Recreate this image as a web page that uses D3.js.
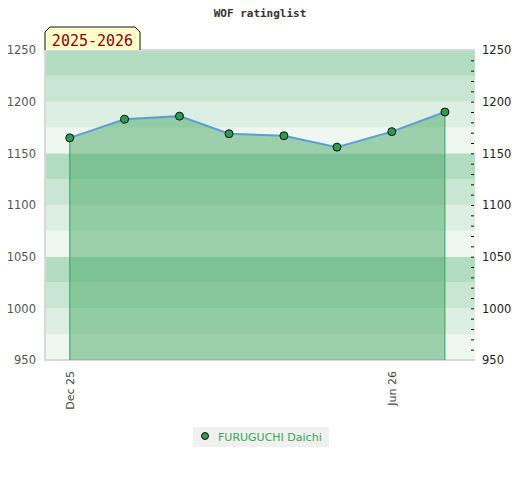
<!DOCTYPE html>
<html>
<head>
<meta charset="utf-8">
<script src="https://cdn.jsdelivr.net/npm/d3@7.9.0/dist/d3.min.js"></script>
<style>
  body { margin: 0; background: #fff; }
  svg { display: block; }
</style>
</head>
<body>
<div id="chart"></div>
<script>
// data
const player = 'FURUGUCHI Daichi';
const season = '2025-2026';
const dates = ['2025-12-01', '2026-01-01', '2026-02-01', '2026-03-01',
               '2026-04-01', '2026-05-01', '2026-06-01', '2026-07-01'];
const ratings = [1165, 1183, 1186, 1169, 1167, 1156, 1171, 1190];
const yTicks = [950, 1000, 1050, 1100, 1150, 1200, 1250];
const xTickDates = ['2025-12-01', '2026-06-01'];
const xTickLabels = ['Dec 25', 'Jun 26'];

const parse = d3.timeParse('%Y-%m-%d');
const points = dates.map((d, i) => ({ date: parse(d), rating: ratings[i] }));

const width = 520;
const height = 480;
const margin = { top: 50, right: 45, bottom: 120, left: 45 };

const svg = d3.select('#chart')
  .append('svg')
  .attr('width', width)
  .attr('height', height);

const xScale = d3.scaleTime()
  .domain([parse('2025-11-17'), parse('2026-07-18')])
  .range([margin.left, width - margin.right]);

const yScale = d3.scaleLinear()
  .domain([950, 1250])
  .range([height - margin.bottom, margin.top]);

// background bands, 4 shades repeating every 100 points
const bandColors = ['#eff7f1', '#dcefe2', '#c8e6d2', '#b3ddc3'];
svg.append('g')
  .selectAll('rect')
  .data(d3.range(950, 1250, 25))
  .join('rect')
  .attr('x', margin.left)
  .attr('width', width - margin.left - margin.right)
  .attr('y', (d) => yScale(d + 25))
  .attr('height', (d) => yScale(d) - yScale(d + 25))
  .attr('fill', (d) => bandColors[((d - 950) / 25) % 4]);

// plot border (left, top, bottom)
svg.append('path')
  .attr('d', `M${width - margin.right},${margin.top}H${margin.left}V${height - margin.bottom}H${width - margin.right}`)
  .attr('fill', 'none')
  .attr('stroke', '#d8d8d8')
  .attr('stroke-width', 2);

// area under the line
const area = d3.area()
  .x((d) => xScale(d.date))
  .y0(yScale(950))
  .y1((d) => yScale(d.rating));

svg.append('path')
  .datum(points)
  .attr('d', area)
  .attr('fill', 'rgb(65,166,96)')
  .attr('fill-opacity', 0.48);

// drop lines at first and last point
const ends = [points[0], points[points.length - 1]];
svg.append('g')
  .selectAll('line')
  .data(ends)
  .join('line')
  .attr('x1', (d) => xScale(d.date))
  .attr('x2', (d) => xScale(d.date))
  .attr('y1', (d) => yScale(d.rating))
  .attr('y2', yScale(950))
  .attr('stroke', '#35a657')
  .attr('stroke-width', 1);

// rating line
const line = d3.line()
  .x((d) => xScale(d.date))
  .y((d) => yScale(d.rating));

svg.append('path')
  .datum(points)
  .attr('d', line)
  .attr('fill', 'none')
  .attr('stroke', '#5b9fd6')
  .attr('stroke-width', 2);

// dots
svg.append('g')
  .selectAll('circle')
  .data(points)
  .join('circle')
  .attr('cx', (d) => xScale(d.date))
  .attr('cy', (d) => yScale(d.rating))
  .attr('r', 4)
  .attr('fill', '#2e9a52')
  .attr('stroke', '#111')
  .attr('stroke-width', 1);

// left axis labels
const yAxisLeft = d3.axisLeft(yScale).tickValues(yTicks).tickSize(0).tickPadding(9)
  .tickFormat(d3.format('d'));
const gl = svg.append('g')
  .attr('transform', `translate(${margin.left}, 0)`)
  .call(yAxisLeft);
gl.select('.domain').remove();
gl.selectAll('text')
  .attr('font-family', 'DejaVu Sans, sans-serif')
  .attr('font-size', 11.5)
  .attr('fill', '#555');

// right axis: minor ticks inside, labels outside
const xr = width - margin.right;
const minor = svg.append('g')
  .attr('transform', `translate(${xr - 1}, 0)`)
  .call(d3.axisLeft(yScale).tickValues(d3.range(960, 1250, 10)).tickSize(3).tickFormat(''));
minor.select('.domain').remove();
minor.selectAll('line').attr('stroke', '#111');

const gr = svg.append('g')
  .attr('transform', `translate(${xr}, 0)`)
  .call(d3.axisRight(yScale).tickValues(yTicks).tickSize(0).tickPadding(7)
    .tickFormat(d3.format('d')));
gr.select('.domain').remove();
gr.selectAll('text')
  .attr('font-family', 'DejaVu Sans, sans-serif')
  .attr('font-size', 11.5)
  .attr('fill', '#222');

// x tick labels, rotated
svg.append('g')
  .selectAll('text')
  .data(xTickDates)
  .join('text')
  .attr('transform', (d) => `translate(${xScale(parse(d)) + 4}, ${height - margin.bottom + 11}) rotate(-90)`)
  .attr('text-anchor', 'end')
  .attr('font-family', 'DejaVu Sans, sans-serif')
  .attr('font-size', 11)
  .attr('fill', '#444')
  .text((d, i) => xTickLabels[i]);

// title
svg.append('text')
  .attr('x', width / 2)
  .attr('y', 17)
  .attr('text-anchor', 'middle')
  .attr('font-family', 'DejaVu Sans Mono, monospace')
  .attr('font-weight', 'bold')
  .attr('font-size', 11)
  .attr('fill', '#333')
  .text('WOF ratinglist');

// season badge
const bx0 = margin.left, bx1 = 140, by0 = 27, by1 = margin.top;
svg.append('path')
  .attr('d', `M${bx0},${by1}V${by0 + 5}L${bx0 + 5},${by0}H${bx1 - 5}L${bx1},${by0 + 5}V${by1}`)
  .attr('fill', '#ffffcc')
  .attr('stroke', '#111')
  .attr('stroke-width', 1);
svg.append('text')
  .attr('x', (bx0 + bx1) / 2)
  .attr('y', 46)
  .attr('text-anchor', 'middle')
  .attr('font-family', 'DejaVu Sans Mono, monospace')
  .attr('font-size', 15)
  .attr('fill', '#8b0000')
  .text(season);

// legend
const legend = svg.append('g').attr('transform', 'translate(193, 427)');
legend.append('rect')
  .attr('width', 136)
  .attr('height', 20)
  .attr('fill', '#f0f0f0');
legend.append('circle')
  .attr('cx', 12)
  .attr('cy', 9)
  .attr('r', 3.5)
  .attr('fill', '#2e9a52')
  .attr('stroke', '#111');
legend.append('text')
  .attr('x', 25)
  .attr('y', 14)
  .attr('font-family', 'DejaVu Sans, sans-serif')
  .attr('font-size', 11)
  .attr('fill', '#35a657')
  .text(player);
</script>
</body>
</html>
